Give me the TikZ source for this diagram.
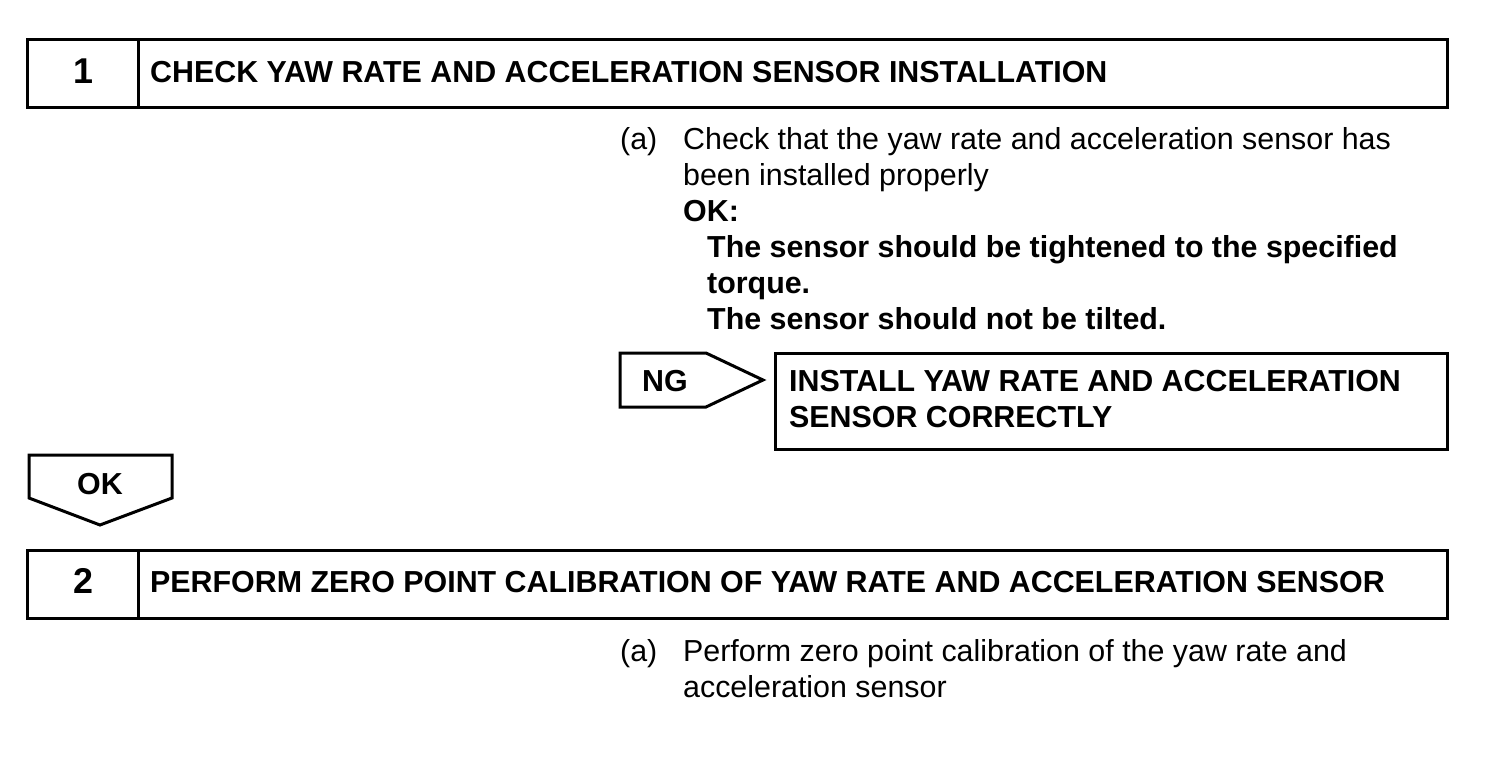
\documentclass[tikz,border=0pt]{standalone}
\usepackage{fontspec}
\setmainfont{Liberation Sans}
\begin{document}
\begin{tikzpicture}[x=1bp,y=-1bp,
  frame/.style={draw=black,line width=3bp},
  head/.style={font=\fontsize{30.5}{36}\selectfont\bfseries,anchor=base west,inner sep=0pt},
  num/.style={font=\fontsize{36}{40}\selectfont\bfseries,anchor=base,inner sep=0pt},
  body/.style={font=\fontsize{30.5}{36}\selectfont,anchor=base west,inner sep=0pt},
  bbody/.style={font=\fontsize{30.5}{36}\selectfont\bfseries,anchor=base west,inner sep=0pt}]
\useasboundingbox[fill=white] (0,0) rectangle (1504,756);
% Step 1
\draw[frame] (27,40) rectangle (1447,107);
\draw[frame] (138,40) -- (138,107);
\node[num] (n1) at (83,83) {1};
\node[head] (h1) at (150,82) {CHECK YAW RATE AND ACCELERATION SENSOR INSTALLATION};
\node[body] (a1) at (620,149) {(a)};
\node[body] (t1) at (683,149) {Check that the yaw rate and acceleration sensor has};
\node[body] (t2) at (683,185) {been installed properly};
\node[bbody] (t3) at (683,221) {OK:};
\node[bbody] (t4) at (707,257) {The sensor should be tightened to the specified};
\node[bbody] (t5) at (707,293) {torque.};
\node[bbody] (t6) at (707,329) {The sensor should not be tilted.};
% NG
\draw[frame,line join=miter] (620,353) -- (706,353) -- (763,380) -- (706,407) -- (620,407) -- cycle;
\node[bbody] (ng) at (642,391) {NG};
\draw[frame] (775,353) rectangle (1447,449);
\node[bbody] (i1) at (789,391) {INSTALL YAW RATE AND ACCELERATION};
\node[bbody] (i2) at (789,427) {SENSOR CORRECTLY};
% OK
\draw[frame,line join=miter] (29,455) -- (172,455) -- (172,498) -- (100,525) -- (29,498) -- cycle;
\node[bbody,anchor=base] (ok) at (100,494) {OK};
% Step 2
\draw[frame] (27,550) rectangle (1447,618);
\draw[frame] (138,550) -- (138,618);
\node[num] (n2) at (83,593) {2};
\node[head] (h2) at (150,592) {PERFORM ZERO POINT CALIBRATION OF YAW RATE AND ACCELERATION SENSOR};
\node[body] (a2) at (620,661) {(a)};
\node[body] (s1) at (683,661) {Perform zero point calibration of the yaw rate and};
\node[body] (s2) at (683,697) {acceleration sensor};
\end{tikzpicture}
\end{document}
